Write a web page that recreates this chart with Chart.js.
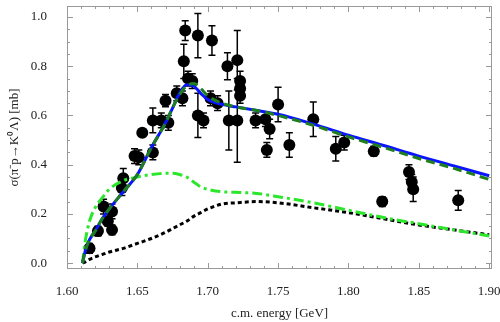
<!DOCTYPE html>
<html>
<head>
<meta charset="utf-8">
<script src="https://cdn.jsdelivr.net/npm/chart.js@4"></script>
<style>
  html, body { margin: 0; padding: 0; background: #fff; }
</style>
</head>
<body>
<canvas id="chart" width="500" height="322"></canvas>
<script>
// measured points: energy [GeV], cross section [mb], error
const dataE = [1.616, 1.622, 1.626, 1.629, 1.632, 1.632, 1.639, 1.640, 1.648, 1.651,
  1.6535, 1.661, 1.661, 1.667, 1.672, 1.670, 1.678, 1.682, 1.683, 1.684,
  1.686, 1.689, 1.693, 1.693, 1.697, 1.703, 1.702, 1.707, 1.714, 1.715,
  1.721, 1.721, 1.723, 1.723, 1.723, 1.734, 1.741, 1.744, 1.742, 1.750,
  1.758, 1.775, 1.791, 1.797, 1.818, 1.824, 1.843, 1.845, 1.846, 1.878];
const dataSigma = [0.06, 0.13, 0.23, 0.17, 0.21, 0.135, 0.305, 0.345, 0.435, 0.43,
  0.53, 0.45, 0.58, 0.58, 0.57, 0.66, 0.69, 0.67, 0.82, 0.945,
  0.75, 0.74, 0.925, 0.60, 0.58, 0.905, 0.67, 0.65, 0.80, 0.58,
  0.825, 0.58, 0.74, 0.71, 0.68, 0.58, 0.585, 0.545, 0.46, 0.645,
  0.48, 0.585, 0.465, 0.49, 0.455, 0.25, 0.37, 0.33, 0.30, 0.255];
const dataErr = [0.02, 0.02, 0.03, 0.02, 0.03, 0.02, 0.03, 0.04, 0.03, 0.03,
  0, 0.03, 0.05, 0.03, 0.03, 0.025, 0.03, 0.03, 0.07, 0.04,
  0.03, 0.03, 0.09, 0.09, 0.03, 0.06, 0.03, 0.03, 0.055, 0.12,
  0.12, 0.17, 0.04, 0.03, 0.03, 0.03, 0.03, 0.04, 0.03, 0.07,
  0.05, 0.07, 0.05, 0.03, 0.02, 0.02, 0.03, 0.03, 0.05, 0.04];

// model curves on a shared energy grid
const curveE = [1.611, 1.613, 1.616, 1.62, 1.625, 1.63, 1.64, 1.65, 1.66, 1.67, 1.675, 1.68, 1.685,
  1.69, 1.695, 1.70, 1.71, 1.72, 1.735, 1.75, 1.775, 1.80, 1.825, 1.85, 1.875, 1.90];
const modelSolid = [0, 0.05, 0.095, 0.13, 0.18, 0.22, 0.29, 0.36, 0.47, 0.57, 0.63, 0.69, 0.725,
  0.72, 0.69, 0.665, 0.645, 0.635, 0.62, 0.605, 0.565, 0.52, 0.478, 0.435, 0.395, 0.355];
const modelDashed = [0, 0.05, 0.095, 0.13, 0.18, 0.22, 0.29, 0.36, 0.47, 0.57, 0.63, 0.685, 0.72,
  0.73, 0.71, 0.68, 0.65, 0.635, 0.62, 0.60, 0.56, 0.513, 0.47, 0.425, 0.385, 0.34];
const modelDashDot = [0, 0.09, 0.17, 0.225, 0.265, 0.30, 0.335, 0.35, 0.36, 0.365, 0.365, 0.36, 0.35,
  0.33, 0.31, 0.30, 0.29, 0.288, 0.283, 0.27, 0.245, 0.215, 0.185, 0.16, 0.135, 0.11];
const modelDotted = [0, 0.005, 0.015, 0.025, 0.035, 0.045, 0.06, 0.08, 0.10, 0.125, 0.14, 0.155, 0.17,
  0.19, 0.205, 0.22, 0.24, 0.245, 0.25, 0.245, 0.225, 0.205, 0.18, 0.155, 0.135, 0.115];

const xTicks = [1.60, 1.65, 1.70, 1.75, 1.80, 1.85, 1.90];
const yTicks = [0.0, 0.2, 0.4, 0.6, 0.8, 1.0];

const serif = 'Liberation Serif';

function toPoints(ys) {
    return curveE.map((e, i) => ({ x: e, y: ys[i] }));
}

// error bars under the markers
const errorBarPlugin = {
    id: 'errorBars',
    beforeDatasetsDraw(chart) {
        const { ctx, scales: { x, y } } = chart;
        ctx.save();
        ctx.strokeStyle = '#000';
        ctx.lineWidth = 1.5;
        dataE.forEach((e, i) => {
            if (!dataErr[i]) return;
            const px = x.getPixelForValue(e);
            const top = y.getPixelForValue(dataSigma[i] + dataErr[i]);
            const bot = y.getPixelForValue(dataSigma[i] - dataErr[i]);
            ctx.beginPath();
            ctx.moveTo(px, top); ctx.lineTo(px, bot);
            ctx.moveTo(px - 3.5, top); ctx.lineTo(px + 3.5, top);
            ctx.moveTo(px - 3.5, bot); ctx.lineTo(px + 3.5, bot);
            ctx.stroke();
        });
        ctx.restore();
    }
};

// frame with inward ticks on all four sides
const framePlugin = {
    id: 'frame',
    afterDraw(chart) {
        const { ctx, chartArea: a, scales: { x, y } } = chart;
        ctx.save();
        ctx.strokeStyle = '#999';
        ctx.lineWidth = 1;
        ctx.strokeRect(a.left + 0.5, a.top + 0.5, a.right - a.left - 1, a.bottom - a.top - 1);
        ctx.beginPath();
        for (let k = 0; k <= 30; k++) {
            const px = Math.round(x.getPixelForValue(1.60 + k * 0.01)) + 0.5;
            const len = k % 5 === 0 ? 6 : 3;
            ctx.moveTo(px, a.bottom); ctx.lineTo(px, a.bottom - len);
            ctx.moveTo(px, a.top); ctx.lineTo(px, a.top + len);
        }
        for (let k = 0; k <= 20; k++) {
            const py = Math.round(y.getPixelForValue(k * 0.05)) + 0.5;
            const len = k % 4 === 0 ? 6 : 3;
            ctx.moveTo(a.left, py); ctx.lineTo(a.left + len, py);
            ctx.moveTo(a.right, py); ctx.lineTo(a.right - len, py);
        }
        ctx.stroke();
        ctx.restore();
    }
};

function curve(ys, color, dash) {
    return {
        data: toPoints(ys),
        showLine: true,
        borderColor: color,
        borderWidth: 3,
        borderDash: dash,
        pointRadius: 0,
        cubicInterpolationMode: 'monotone'
    };
}

new Chart(document.getElementById('chart'), {
    type: 'scatter',
    data: {
        datasets: [
            curve(modelDashed, '#1f7f1f', [9, 5]),
            curve(modelSolid, '#0a14ff', []),
            curve(modelDashDot, '#2be62b', [10, 4, 3, 4]),
            curve(modelDotted, '#000', [4, 3]),
            {
                data: dataE.map((e, i) => ({ x: e, y: dataSigma[i] })),
                backgroundColor: '#000',
                borderWidth: 0,
                pointRadius: 6
            }
        ]
    },
    options: {
        responsive: false,
        animation: false,
        layout: { padding: { top: 1, right: 8, left: 0, bottom: 0 } },
        plugins: {
            legend: { display: false },
            tooltip: { enabled: false }
        },
        scales: {
            x: {
                type: 'linear',
                min: 1.60,
                max: 1.902,
                afterBuildTicks: s => { s.ticks = xTicks.map(v => ({ value: v })); },
                afterFit: s => {
                    s.height = 53;
                    s.paddingLeft = 0;
                    s.paddingRight = 0;
                },
                grid: { display: false },
                border: { display: false },
                ticks: {
                    padding: 7,
                    color: '#222',
                    font: { family: serif, size: 13 },
                    callback: v => v.toFixed(2)
                },
                title: {
                    display: true,
                    text: 'c.m. energy [GeV]',
                    color: '#222',
                    font: { family: serif, size: 13 },
                    padding: { top: 0, bottom: 1 }
                }
            },
            y: {
                type: 'linear',
                min: -0.024,
                max: 1.045,
                afterBuildTicks: s => { s.ticks = yTicks.map(v => ({ value: v })); },
                afterFit: s => {
                    s.width = 67;
                    s.paddingTop = 0;
                    s.paddingBottom = 0;
                },
                grid: { display: false },
                border: { display: false },
                ticks: {
                    padding: 12,
                    color: '#222',
                    font: { family: serif, size: 13 },
                    callback: v => v.toFixed(1)
                },
                title: {
                    display: true,
                    text: 'σ(π⁻p→K⁰Λ) [mb]',
                    color: '#222',
                    font: { family: serif, size: 13 },
                    padding: { top: 7, bottom: 0 }
                }
            }
        }
    },
    plugins: [errorBarPlugin, framePlugin]
});
</script>
</body>
</html>
